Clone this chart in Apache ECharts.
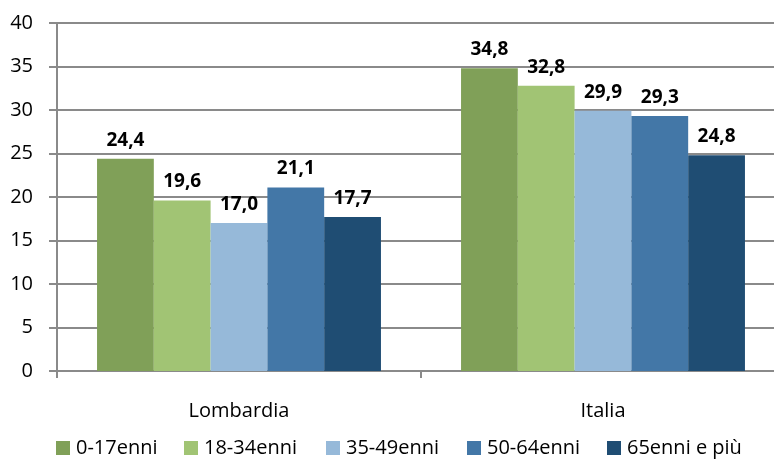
<!DOCTYPE html>
<html>
<head>
<meta charset="utf-8">
<script src="https://cdn.jsdelivr.net/npm/echarts@6/dist/echarts.min.js"></script>
<style>
  html, body { margin: 0; padding: 0; background: #fff; }
  #chart { width: 774px; height: 462px; }
</style>
</head>
<body>
<div id="chart"></div>
<script>
// Areas on the category axis
const categories = ['Lombardia', 'Italia'];

// Age groups (one bar series each)
const seriesNames = ['0-17enni', '18-34enni', '35-49enni', '50-64enni', '65enni e più'];
const seriesColors = ['#80a058', '#a1c474', '#96b9d9', '#4377a7', '#1f4d73'];

// Values per age group: [Lombardia, Italia]
const v0_17 = [24.4, 34.8];
const v18_34 = [19.6, 32.8];
const v35_49 = [17.0, 29.9];
const v50_64 = [21.1, 29.3];
const v65plus = [17.7, 24.8];
const seriesValues = [v0_17, v18_34, v35_49, v50_64, v65plus];

// Y axis ticks
const yMin = 0, yMax = 40, yStep = 5;

const FONT = '"Open Sans", sans-serif';
const GRAY = '#8a8a8a';

const legendLefts = [56, 184, 326, 467, 607];

const chart = echarts.init(document.getElementById('chart'), null, { renderer: 'canvas' });

chart.setOption({
  animation: false,
  grid: { left: 57, top: 23, width: 728, bottom: 91, containLabel: false, outerBoundsMode: 'none' },
  legend: seriesNames.map((n, i) => ({
    data: [n],
    left: legendLefts[i],
    top: 438,
    padding: 0,
    itemWidth: 14,
    itemHeight: 14,
    itemGap: 0,
    icon: 'rect',
    textStyle: { fontFamily: FONT, fontSize: 20, color: '#000', padding: [0, 0, 0, 1] }
  })),
  xAxis: {
    type: 'category',
    data: categories,
    axisLine: { lineStyle: { color: GRAY, width: 2 } },
    axisTick: { show: true, length: 7, interval: 0, alignWithLabel: false, lineStyle: { color: GRAY, width: 2 } },
    axisLabel: { fontFamily: FONT, fontSize: 20, color: '#000', margin: 30 }
  },
  yAxis: {
    type: 'value',
    min: yMin, max: yMax, interval: yStep,
    axisLine: { show: true, lineStyle: { color: GRAY, width: 2 } },
    axisTick: { show: true, length: 8, lineStyle: { color: GRAY, width: 2 } },
    axisLabel: { fontFamily: FONT, fontSize: 20, color: '#000', margin: 24 },
    splitLine: { show: true, lineStyle: { color: GRAY, width: 2 } }
  },
  series: seriesNames.map((n, i) => ({
    name: n,
    type: 'bar',
    data: seriesValues[i],
    barGap: '0%',
    barCategoryGap: '22%',
    itemStyle: { color: seriesColors[i] },
    label: {
      show: true,
      position: 'top',
      distance: 9,
      fontFamily: FONT,
      fontWeight: 'bold',
      fontSize: 19,
      color: '#000',
      formatter: p => p.value.toFixed(1).replace('.', ',')
    }
  }))
});
</script>
</body>
</html>
